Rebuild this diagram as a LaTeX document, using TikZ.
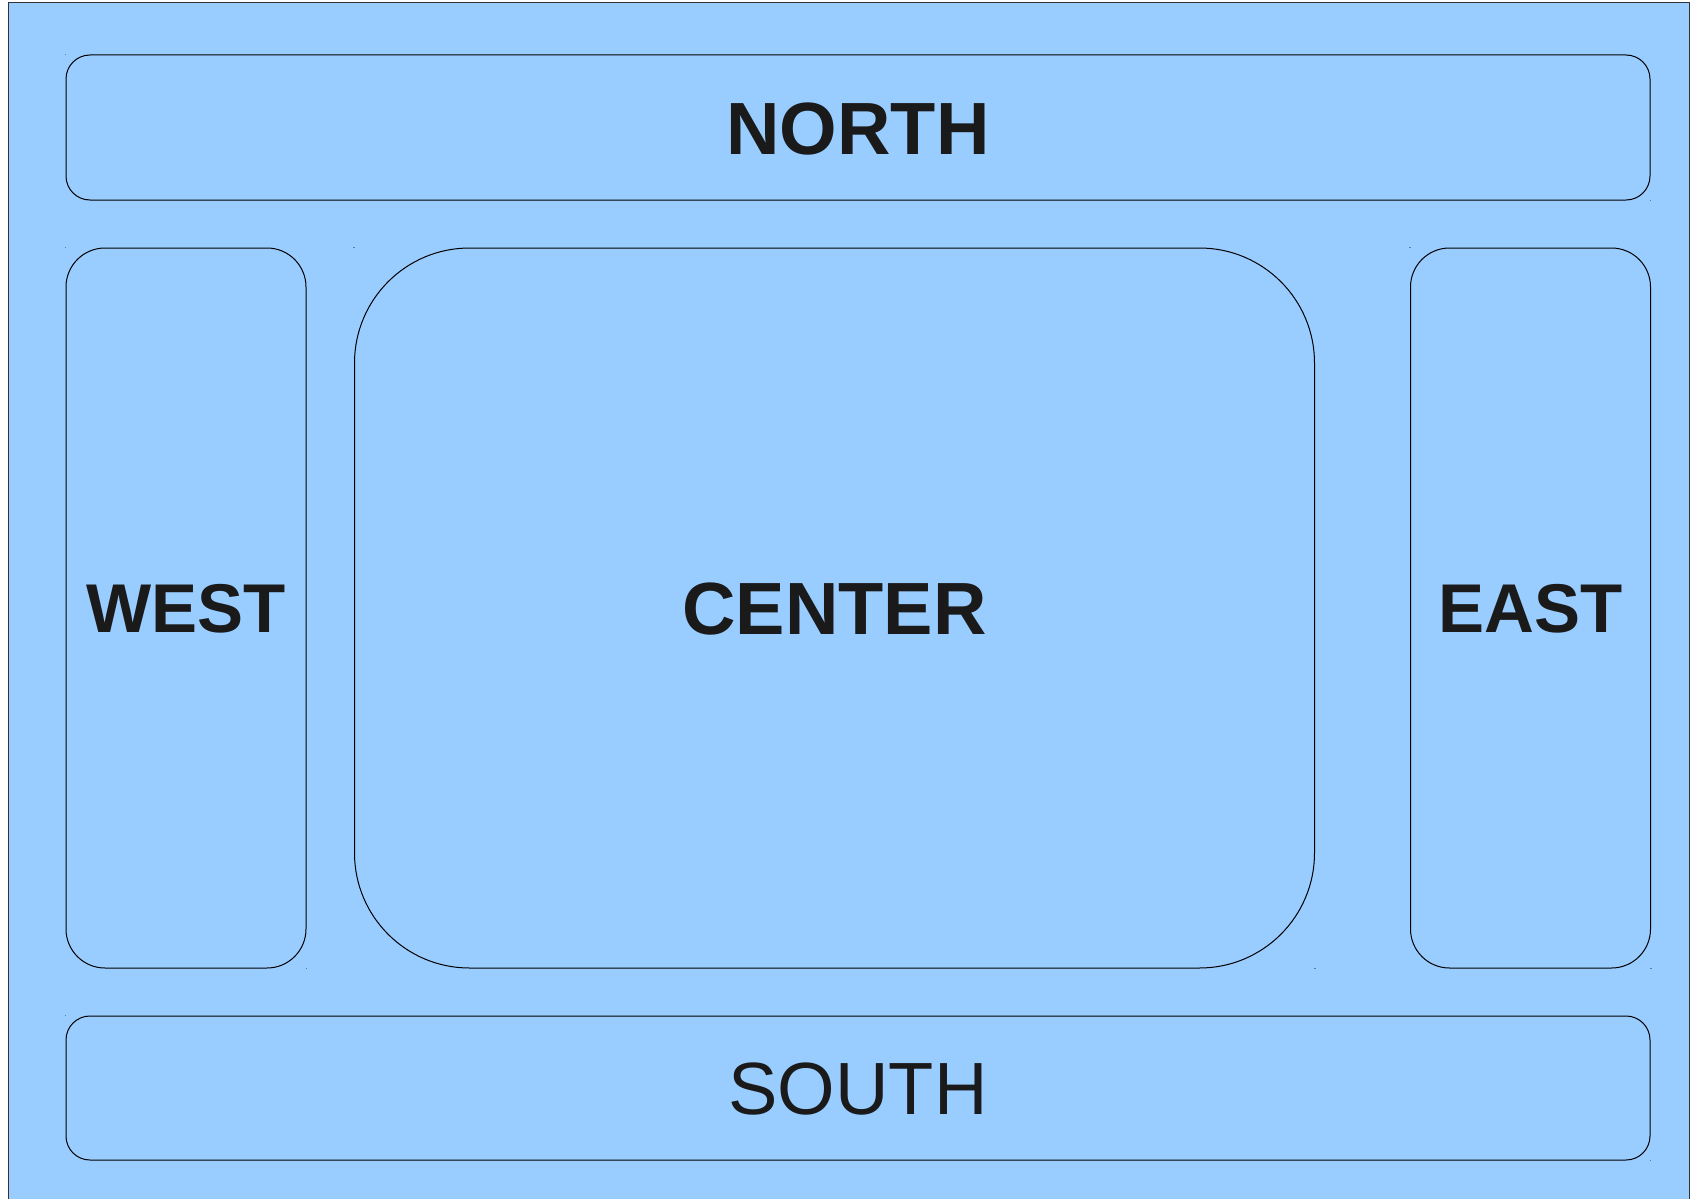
\documentclass[tikz,border=0pt]{standalone}
\usepackage{fontspec}
\setmainfont{Liberation Sans}
\definecolor{bgblue}{HTML}{99CCFF}
\definecolor{ink}{HTML}{1A1A1A}
\definecolor{dotc}{HTML}{5A7A9A}
\begin{document}
\begin{tikzpicture}[x=1pt,y=-1pt,
  region/.style={draw=black, line width=1pt, fill=bgblue, inner sep=0pt,
     text=ink, font=\fontsize{74}{74}\selectfont, text height=53pt, text depth=0pt},
  regionb/.style={region, font=\fontsize{74}{74}\selectfont\bfseries},
  sideb/.style={region, font=\fontsize{69}{69}\selectfont\bfseries, text height=49.4pt},
  corner/.style={fill=dotc, minimum size=1.3pt, inner sep=0pt, draw=none}]
\useasboundingbox (0,0) rectangle (1697,1199);
\fill[white] (0,0) rectangle (1697,1199);
\filldraw[fill=bgblue, draw=black!80, line width=1pt] (8,1210) -- (8,3) -- (1689,3) -- (1689,1210);
% regions
\node[regionb, rounded corners=24pt, minimum width=1584pt, minimum height=145pt] (north) at (858,127.5) {NORTH};
\node[region, rounded corners=24pt, minimum width=1584pt, minimum height=144pt] (south) at (858,1088) {SOUTH};
\node[sideb, rounded corners=39pt, minimum width=240pt, minimum height=720pt] (west) at (186,608) {WEST};
\node[sideb, rounded corners=39pt, minimum width=240pt, minimum height=720pt] (east) at (1530.5,608) {EAST};
\node[regionb, rounded corners=115pt, minimum width=960pt, minimum height=720pt] (center) at (834.5,608) {CENTER};
% tiny bounding-box marks
\foreach \n in {north,south,west,east,center}{
  \node[corner] (\n-tl) at (\n.north west) {};
  \node[corner] (\n-br) at (\n.south east) {};
}
\end{tikzpicture}
\end{document}
